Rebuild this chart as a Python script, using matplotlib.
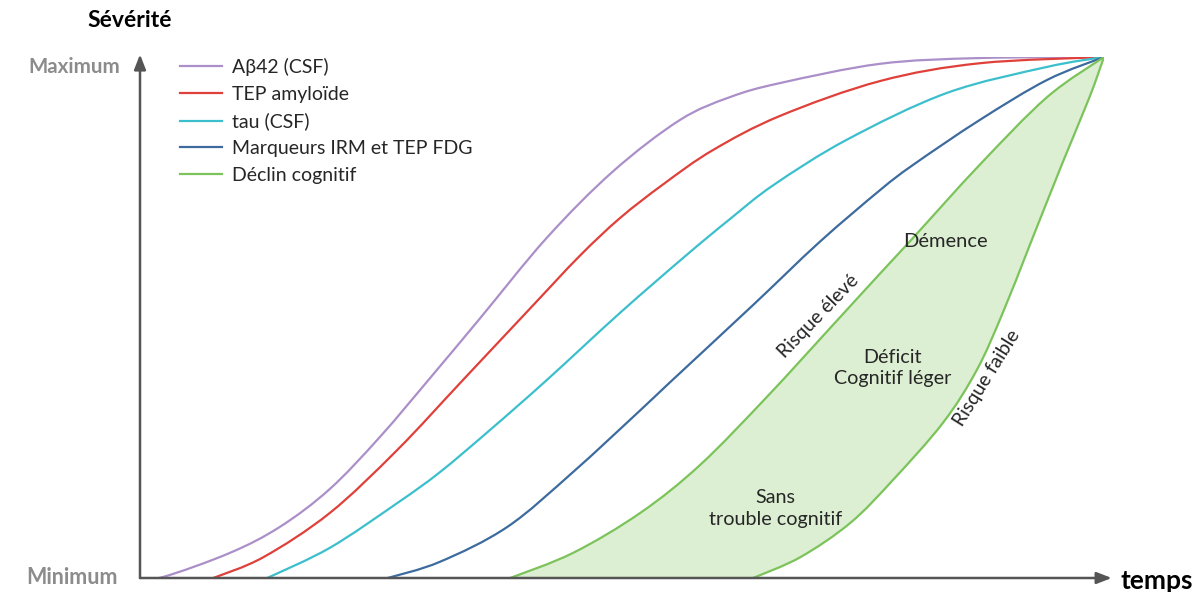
"""Biomarqueurs de la maladie d'Alzheimer : courbes de sévérité au cours du temps."""
import matplotlib
matplotlib.use("Agg")
import matplotlib.pyplot as plt
from matplotlib.path import Path
from matplotlib.patches import PathPatch
from matplotlib.lines import Line2D

plt.rcParams["font.family"] = ["Lato", "DejaVu Sans"]

# Points (temps 0-100, sévérité 0-100)
abeta_x = [0, 2.4, 9.3, 14.5, 19.7, 24.9, 30.1, 35.3, 42.2, 49.1, 56.0, 61.2, 66.4, 76.8, 87.1, 100]
abeta_y = [0, 0.2, 4.8, 9.8, 17.1, 27.1, 38.4, 49.9, 65.3, 78.1, 87.9, 92.3, 95.0, 98.7, 99.8, 100]

tep_x = [7.6, 12.8, 19.7, 26.7, 33.5, 40.5, 45.6, 49.8, 54.3, 59.4, 66.4, 76.8, 87.1, 100]
tep_y = [0, 4.0, 12.5, 24.6, 38.0, 51.8, 61.8, 69.1, 75.6, 82.1, 88.7, 95.4, 98.8, 100]

tau_x = [13.2, 19.7, 26.7, 31.1, 36.3, 42.2, 49.8, 56.7, 61.2, 65.7, 73.3, 83.7, 94.1, 100]
tau_y = [0, 5.8, 14.4, 20.3, 28.4, 38.0, 50.9, 62.0, 68.9, 75.4, 84.1, 93.1, 98.1, 100]

irm_x = [25.7, 31.1, 38.1, 44.9, 51.9, 55.0, 63.6, 70.5, 76.8, 80.2, 87.1, 94.1, 100]
irm_y = [0, 3.1, 9.8, 20.3, 32.2, 37.6, 52.4, 64.5, 74.5, 79.3, 87.9, 95.6, 100]

# Déclin cognitif : bord "risque élevé" et bord "risque faible"
haut_x = [38.4, 44.9, 51.9, 58.1, 65.0, 71.9, 76.8, 80.2, 87.1, 94.1, 100]
haut_y = [0, 4.8, 12.5, 21.7, 34.7, 48.6, 58.5, 65.3, 79.3, 92.3, 100]
bas_x = [63.6, 68.5, 73.7, 78.1, 83.3, 86.8, 89.5, 92.3, 95.7, 98.5, 100]
bas_y = [0, 4.0, 10.6, 18.8, 29.8, 39.9, 50.9, 63.9, 79.7, 92.3, 100]

labels = ["Aβ42 (CSF)", "TEP amyloïde", "tau (CSF)", "Marqueurs IRM et TEP FDG", "Déclin cognitif"]
couleurs = ["#ab8fc9", "#e0403a", "#3cbfcc", "#3d6b9e", "#7bc35a"]

TXT = "#262626"
GRIS = "#8c8c8c"
AXE = "#555555"


def courbe(x, y):
    """Tracé lissé (Catmull-Rom -> Bézier) passant par les points relevés."""
    pts = list(zip(x, y))
    verts = [pts[0]]
    codes = [Path.MOVETO]
    n = len(pts)
    for i in range(n - 1):
        p0 = pts[i - 1] if i > 0 else pts[i]
        p1, p2 = pts[i], pts[i + 1]
        p3 = pts[i + 2] if i + 2 < n else pts[i + 1]
        c1 = (p1[0] + (p2[0] - p0[0]) / 6, p1[1] + (p2[1] - p0[1]) / 6)
        c2 = (p2[0] - (p3[0] - p1[0]) / 6, p2[1] - (p3[1] - p1[1]) / 6)
        verts += [c1, c2, p2]
        codes += [Path.CURVE4] * 3
    return verts, codes


fig = plt.figure(figsize=(11.96, 5.92), dpi=100)
ax = fig.add_axes([140 / 1196, 14 / 592, 964 / 1196, 521 / 592])
ax.set_xlim(0, 100)
ax.set_ylim(0, 100)
ax.axis("off")

# zone verte entre les deux bords
vh, ch = courbe(haut_x, haut_y)
vb, cb = courbe(bas_x[::-1], bas_y[::-1])
cb[0] = Path.LINETO
zone = Path(vh + vb + [vh[0]], ch + cb + [Path.CLOSEPOLY])
ax.add_patch(PathPatch(zone, facecolor="#dcefd2", edgecolor="none", zorder=1))

lw = 1.6
series = [(abeta_x, abeta_y, 0), (tep_x, tep_y, 1), (tau_x, tau_y, 2),
          (irm_x, irm_y, 3), (haut_x, haut_y, 4), (bas_x, bas_y, 4)]
for sx, sy, k in series:
    v, c = courbe(sx, sy)
    ax.add_patch(PathPatch(Path(v, c), facecolor="none", edgecolor=couleurs[k],
                           lw=lw, zorder=3, capstyle="round"))

# axes fléchés
fleche = dict(arrowstyle="-|>,head_length=0.9,head_width=0.35", color=AXE, lw=1.8,
              shrinkA=0, shrinkB=0)
ax.annotate("", xy=(0, 100.5), xytext=(0, 0), arrowprops=fleche, annotation_clip=False, zorder=4)
ax.annotate("", xy=(100.8, 0), xytext=(0, 0), arrowprops=fleche, annotation_clip=False, zorder=4)

ax.text(-1.1, 107.1, "Sévérité", ha="center", va="center", fontsize=16.5,
        fontweight="bold", color="black", clip_on=False)
ax.text(-2.1, 98.1, "Maximum", ha="right", va="center", fontsize=14.8,
        fontweight="bold", color=GRIS, clip_on=False)
ax.text(-2.3, 0, "Minimum", ha="right", va="center", fontsize=15.5,
        fontweight="bold", color=GRIS, clip_on=False)
ax.text(101.7, -0.6, "temps", ha="left", va="center", fontsize=19,
        fontweight="bold", color="black", clip_on=False)

# étiquettes des zones
ax.text(83.5, 64.5, "Démence", ha="center", va="center", fontsize=14.5, color=TXT)
ax.text(78.1, 40.3, "Déficit\nCognitif léger", ha="center", va="center",
        fontsize=14.2, color=TXT, linespacing=1.35)
ax.text(65.9, 13.4, "Sans\ntrouble cognitif", ha="center", va="center",
        fontsize=14.2, color=TXT, linespacing=1.35)
ax.text(70.4, 50.3, "Risque élevé", ha="center", va="center", fontsize=14,
        color=TXT, rotation=46, rotation_mode="anchor")
ax.text(87.8, 38.4, "Risque faible", ha="center", va="center", fontsize=14,
        color=TXT, rotation=58, rotation_mode="anchor")

handles = [Line2D([], [], color=c, lw=lw) for c in couleurs]
leg = ax.legend(handles, labels, loc="upper left",
                bbox_to_anchor=(180 / 1196, 1 - 58 / 592),
                bbox_transform=fig.transFigure, frameon=False, fontsize=14,
                handlelength=2.16, handletextpad=0.52, labelspacing=0.5,
                borderpad=0, borderaxespad=0)
for t in leg.get_texts():
    t.set_color(TXT)

fig.savefig("out.png", dpi=100)
